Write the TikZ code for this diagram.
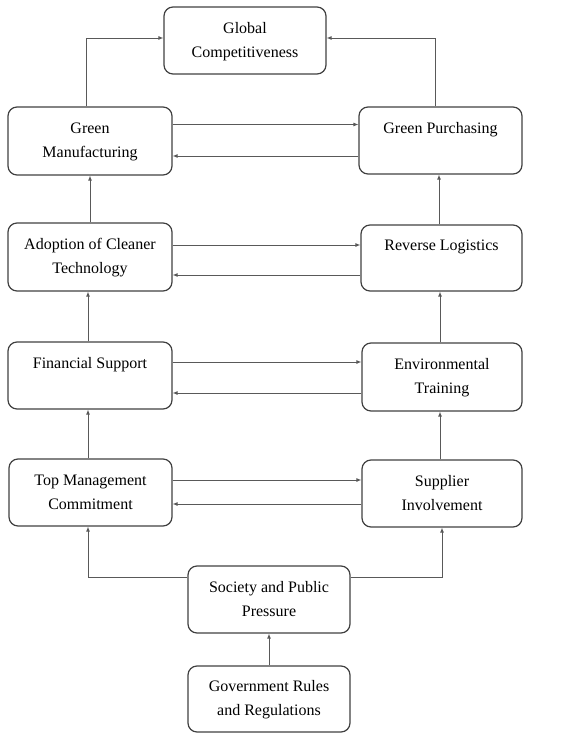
\documentclass[tikz,border=0pt]{standalone}
\usepackage{fontspec}
\setmainfont{Liberation Serif}
\usetikzlibrary{arrows.meta}
\begin{document}
\begin{tikzpicture}[x=1pt,y=-1pt,
  box/.style={draw=black!75,line width=1.2pt,rounded corners=9pt,align=center,
    inner sep=2pt,font=\fontsize{16}{24}\selectfont},
  arr/.style={draw=black!65,line width=0.9pt,-{Latex[length=5pt,width=4pt]}}]
\useasboundingbox (0,0) rectangle (566,733);
\node[box,minimum width=162pt,minimum height=67pt] (GC) at (245,40.5) {\strut Global\\\strut Competitiveness};
\node[box,minimum width=164pt,minimum height=68pt] (GM) at (90,141) {\strut Green\\\strut Manufacturing};
\node[box,minimum width=163pt,minimum height=67pt] (GP) at (440.5,140.5) {\strut Green Purchasing\\\strut};
\node[box,minimum width=164pt,minimum height=68pt] (AD) at (90,257) {\strut Adoption of Cleaner\\\strut Technology};
\node[box,minimum width=161pt,minimum height=66pt] (RL) at (441.5,258) {\strut Reverse Logistics\\\strut};
\node[box,minimum width=164pt,minimum height=67pt] (FS) at (90,375.5) {\strut Financial Support\\\strut};
\node[box,minimum width=160pt,minimum height=68pt] (ET) at (442,377) {\strut Environmental\\\strut Training};
\node[box,minimum width=163pt,minimum height=67pt] (TM) at (90.5,492.5) {\strut Top Management\\\strut Commitment};
\node[box,minimum width=160pt,minimum height=67pt] (SI) at (442,493.5) {\strut Supplier\\\strut Involvement};
\node[box,minimum width=162pt,minimum height=67pt] (SP) at (269,599.5) {\strut Society and Public\\\strut Pressure};
\node[box,minimum width=162pt,minimum height=66pt] (GR) at (269,699) {\strut Government Rules\\\strut and Regulations};

% to Global Competitiveness
\draw[arr] ([xshift=-4pt]GM.north) |- ([yshift=2.5pt]GC.west);
\draw[arr] ([xshift=-5.5pt]GP.north) |- ([yshift=2.5pt]GC.east);

% horizontal pairs
\draw[arr] ([yshift=16.5pt]GM.east) -- ([yshift=16.5pt]GM.east -| GP.west);
\draw[arr] ([yshift=-15.5pt]GP.west) -- ([yshift=-15.5pt]GP.west -| GM.east);
\draw[arr] ([yshift=12pt]AD.east) -- ([yshift=12pt]AD.east -| RL.west);
\draw[arr] ([yshift=-17pt]RL.west) -- ([yshift=-17pt]RL.west -| AD.east);
\draw[arr] ([yshift=13.5pt]FS.east) -- ([yshift=13.5pt]FS.east -| ET.west);
\draw[arr] ([yshift=-16pt]ET.west) -- ([yshift=-16pt]ET.west -| FS.east);
\draw[arr] ([yshift=12.5pt]TM.east) -- ([yshift=12.5pt]TM.east -| SI.west);
\draw[arr] ([yshift=-10.5pt]SI.west) -- ([yshift=-10.5pt]SI.west -| TM.east);

% vertical chains
\draw[arr] (AD.north) -- (AD.north |- GM.south);
\draw[arr] ([xshift=-2.5pt]RL.north) -- ([xshift=-2.5pt]RL.north |- GP.south);
\draw[arr] ([xshift=-2pt]FS.north) -- ([xshift=-2pt]FS.north |- AD.south);
\draw[arr] ([xshift=-2pt]ET.north) -- ([xshift=-2pt]ET.north |- RL.south);
\draw[arr] ([xshift=-2.5pt]TM.north) -- ([xshift=-2.5pt]TM.north |- FS.south);
\draw[arr] ([xshift=-2pt]SI.north) -- ([xshift=-2pt]SI.north |- ET.south);

% from Society
\draw[arr] ([yshift=22.5pt]SP.west) -| ([xshift=-2.5pt]TM.south);
\draw[arr] ([yshift=22.5pt]SP.east) -| (SI.south);
\draw[arr] (GR.north) -- (SP.south);
\end{tikzpicture}
\end{document}
